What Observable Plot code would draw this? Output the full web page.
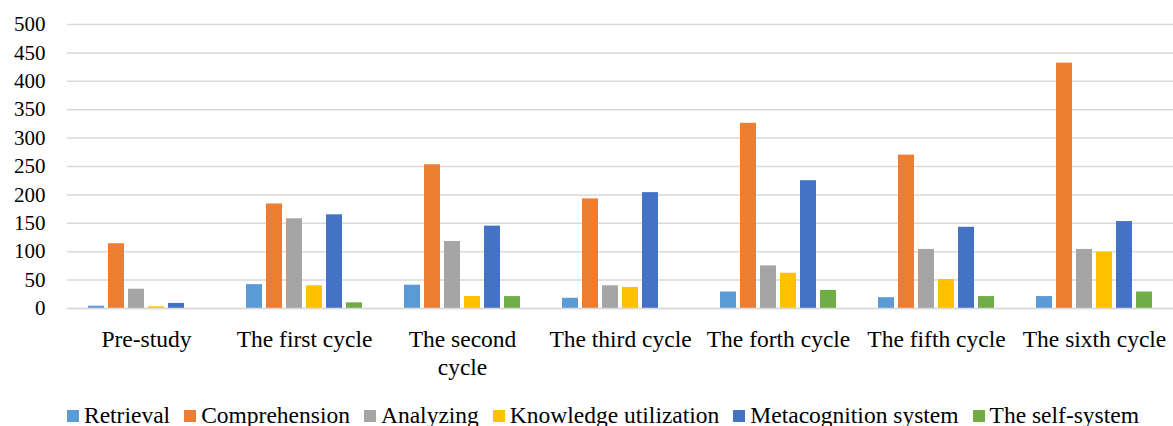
<!DOCTYPE html>
<html>
<head>
<meta charset="utf-8">
<script src="https://cdn.jsdelivr.net/npm/d3@7"></script>
<script src="https://cdn.jsdelivr.net/npm/@observablehq/plot@0.6"></script>
<style>
  body { margin: 0; background: #fff; font-family: "Times New Roman", "Liberation Serif", Tinos, "DejaVu Serif", serif; }
  #legend { display: flex; justify-content: center; gap: 14px; font-size: 23.5px; line-height: 1; color: #000; margin-top: 19px; margin-left: 33px; }
  #legend .item { display: flex; align-items: center; white-space: nowrap; }
  #legend .sw { width: 12px; height: 12px; display: inline-block; margin-right: 5px; }
  svg text { font-family: "Times New Roman", "Liberation Serif", Tinos, "DejaVu Serif", serif; }
</style>
</head>
<body>
<div id="chart"></div>
<div id="legend"></div>
<script>
const categories = ["Pre-study", "The first cycle", "The second cycle", "The third cycle", "The forth cycle", "The fifth cycle", "The sixth cycle"];
const tickLabels = ["Pre-study", "The first cycle", "The second\ncycle", "The third cycle", "The forth cycle", "The fifth cycle", "The sixth cycle"];
const series = ["Retrieval", "Comprehension", "Analyzing", "Knowledge utilization", "Metacognition system", "The self-system"];
const colors = ["#5B9BD5", "#ED7D31", "#A5A5A5", "#FFC000", "#4472C4", "#70AD47"];

const retrieval      = [4, 42, 41, 18, 29, 19, 21];
const comprehension  = [114, 184, 253, 193, 326, 270, 432];
const analyzing      = [34, 158, 118, 40, 75, 104, 104];
const knowledge      = [3, 40, 21, 37, 62, 51, 99];
const metacognition  = [9, 165, 145, 204, 225, 143, 153];
const selfSystem     = [0, 10, 21, 0, 32, 21, 29];
const yTicks = [0, 50, 100, 150, 200, 250, 300, 350, 400, 450, 500];

const values = [retrieval, comprehension, analyzing, knowledge, metacognition, selfSystem];
const data = categories.flatMap((c, i) => series.map((s, j) => ({category: c, series: s, value: values[j][i]})));

const fontStack = '"Times New Roman", "Liberation Serif", Tinos, "DejaVu Serif", serif';
const chart = Plot.plot({
  width: 1173,
  height: 385,
  marginLeft: 67,
  marginRight: 0,
  marginTop: 24,
  marginBottom: 77,
  style: {fontFamily: fontStack, fontSize: "21px", color: "#000", background: "#fff"},
  fx: {domain: categories, padding: 0, label: null},
  x: {domain: series, paddingInner: 0.19, paddingOuter: 0.86, axis: null},
  y: {domain: [0, 500], label: null},
  color: {domain: series, range: colors},
  marks: [
    Plot.gridY(yTicks, {stroke: "#d9d9d9", strokeOpacity: 1, strokeWidth: 1.5}),
    Plot.axisY(yTicks, {tickSize: 0, tickPadding: 22, label: null, fill: "#000", fontSize: 21}),
    Plot.axisFx({anchor: "bottom", tickSize: 0, tickPadding: 18, label: null, lineHeight: 1.2, fill: "#000", fontSize: 23.5,
      tickFormat: d => tickLabels[categories.indexOf(d)]}),
    Plot.barY(data, {fx: "category", x: "series", y: "value", fill: "series"}),
    Plot.ruleY([0], {stroke: "#d9d9d9", strokeWidth: 1.5})
  ]
});
document.getElementById("chart").appendChild(chart);

const legend = document.getElementById("legend");
series.forEach((s, i) => {
  const item = document.createElement("div");
  item.className = "item";
  const sw = document.createElement("span");
  sw.className = "sw";
  sw.style.background = colors[i];
  item.appendChild(sw);
  item.appendChild(document.createTextNode(s));
  legend.appendChild(item);
});
</script>
</body>
</html>
